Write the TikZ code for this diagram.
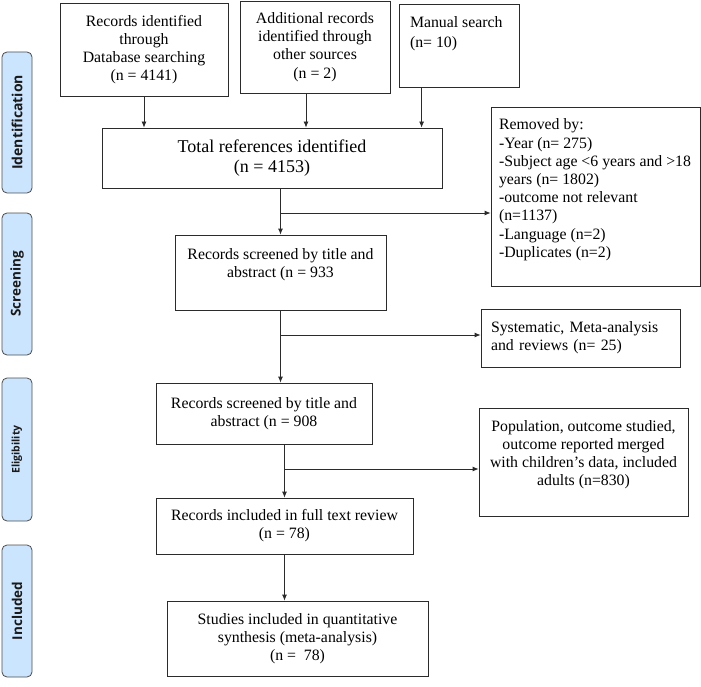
\documentclass[tikz,border=0pt]{standalone}
\usepackage{fontspec}
\setmainfont{Liberation Serif}
\setsansfont{Open Sans}
\usepackage{xcolor}
\usetikzlibrary{arrows.meta}
\definecolor{stagefill}{HTML}{CCE5FF}
\definecolor{linegray}{HTML}{2B2B2B}

\begin{document}
\begin{tikzpicture}[x=1pt,y=-1pt,
  box/.style={draw=linegray,line width=0.8pt,inner sep=4pt,align=center,font=\fontsize{15.8}{18.2}\selectfont},
  stage/.style={draw=black!70,fill=stagefill,rounded corners=5pt,line width=0.8pt,minimum height=30pt,rotate=90,inner sep=0pt,text=black!90},
  arr/.style={-{Latex[length=6pt,width=5pt]},line width=0.8pt,draw=linegray}]

\useasboundingbox (0,0) rectangle (701,687);

% phases on the left
\node[stage,minimum width=141pt,font=\sffamily\bfseries\fontsize{14}{16}\selectfont] (ident) at (17,122.5) {Identification};
\node[stage,minimum width=142pt,font=\sffamily\bfseries\fontsize{13.5}{16}\selectfont] (screen) at (17,284) {Screening};
\node[stage,minimum width=143pt,font=\sffamily\bfseries\fontsize{10.5}{12}\selectfont] (elig) at (17,449.5) {Eligibility};
\node[stage,minimum width=132pt,font=\sffamily\bfseries\fontsize{13.5}{16}\selectfont] (incl) at (17,611) {Included};

%%% identification
\node[box,minimum width=168pt,minimum height=93pt] (db) at (144,49.5) {Records identified\\through\\Database searching\\(n = 4141)};
\node[box,minimum width=150pt,minimum height=92pt] (add) at (315,47) {Additional records\\identified through\\other sources\\(n = 2)};
\node[box,inner sep=0pt] (man) at (459,45.5) {\parbox[c][83pt][t]{120pt}{\vspace*{13pt}\hspace*{11pt}Manual search\\[1.5pt]\hspace*{11pt}(n= 10)}};

\node[box,minimum width=340pt,minimum height=60pt,font=\fontsize{18}{20.5}\selectfont] (tot) at (272,158) {Total references identified\\(n = 4153)};

\node[box,inner sep=0pt] (rem) at (595.5,196.5) {\parbox[c][179pt][t]{209pt}{\raggedright\leftskip=8pt\vspace*{12pt}Removed by:\\-Year (n= 275)\\-Subject age <6 years and >18\\years (n= 1802)\\-outcome not relevant\\(n=1137)\\-Language (n=2)\\-Duplicates (n=2)}};

%%% screening
\node[box,minimum width=211pt,minimum height=75pt] (scr1) at (280.5,272.5) {Records screened by title and\\abstract (n = 933\\\mbox{}};
\node[box,minimum width=199pt,minimum height=58pt,inner xsep=10pt,text width=179pt,align=left] (sys) at (580.5,338) {Systematic, Meta-analysis\\and reviews (n= 25)};

%%% eligibility
\node[box,minimum width=216pt,minimum height=61pt] (scr2) at (264,413.5) {Records screened by title and\\abstract (n = 908};
\node[box,minimum width=209pt,minimum height=108pt] (pop) at (583.5,462) {Population, outcome studied,\\outcome reported merged\\with children’s data, included\\adults (n=830)\\\mbox{}};
\node[box,minimum width=257pt,minimum height=56pt] (full) at (284.5,526) {Records included in full text review\\(n = 78)};

%%% included
\node[box,minimum width=261pt,minimum height=75pt] (stud) at (297.5,638.5) {Studies included in quantitative\\synthesis (meta-analysis)\\(n = \ 78)};

%%% connectors
\coordinate (a1) at ([xshift=-9pt]add.south);
\coordinate (m1) at ([xshift=23pt]man.south west);
\draw[arr] (db.south) -- (db.south |- tot.north);
\draw[arr] (a1) -- (a1 |- tot.north);
\draw[arr] (m1) -- (m1 |- tot.north);

\coordinate (j1) at (280.5,213);
\draw[arr] (scr1.north |- tot.south) -- (scr1.north);
\draw[arr] (j1) -- (j1 -| rem.west);

\coordinate (j2) at (280.5,335);
\draw[arr] (scr1.south) -- (scr1.south |- scr2.north);
\draw[arr] (j2) -- (j2 -| sys.west);

\coordinate (j3) at (284.5,469);
\draw[arr] (full.north |- scr2.south) -- (full.north);
\draw[arr] (j3) -- (j3 -| pop.west);

\draw[arr] (full.south) -- (full.south |- stud.north);
\end{tikzpicture}
\end{document}
